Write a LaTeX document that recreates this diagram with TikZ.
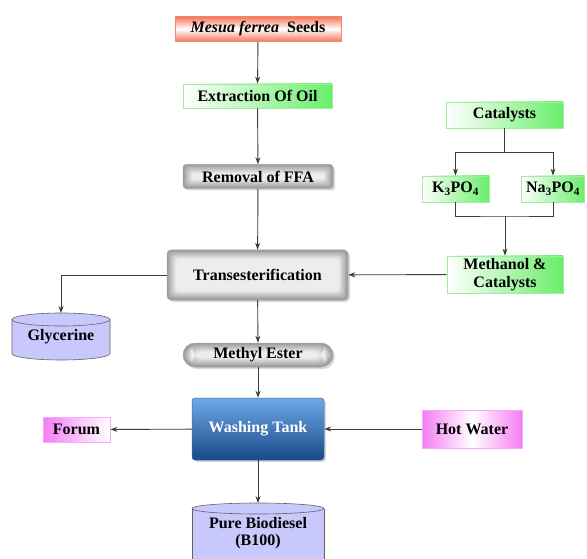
\documentclass[tikz,border=0pt]{standalone}
\usepackage{fontspec}
\setmainfont{Liberation Serif}[BoldFont={* Bold}, ItalicFont={* Italic}, BoldItalicFont={* Bold Italic}]
\usetikzlibrary{arrows.meta,shadows,calc}
\definecolor{grn}{RGB}{105,238,105}
\definecolor{grnb}{RGB}{160,236,160}
\definecolor{org}{RGB}{246,118,88}
\definecolor{orgb}{RGB}{240,135,105}
\definecolor{mag}{RGB}{244,125,244}
\definecolor{magb}{RGB}{245,170,245}
\definecolor{lav}{RGB}{200,200,252}
\definecolor{wtop}{RGB}{110,170,232}
\definecolor{wbot}{RGB}{24,72,136}
\definecolor{ln}{RGB}{60,60,60}
\begin{document}
\begin{tikzpicture}[x=1pt,y=-1pt,
  lbl/.style={font=\bfseries\fontsize{16}{17.5}\selectfont, inner sep=0pt, align=center},
  greenbox/.style={lbl, draw=grnb, line width=0.8pt, left color=white, right color=grn},
  magbox/.style={lbl, draw=magb, line width=0.8pt},
  glow/.style={lbl, draw=gray!70, line width=0.5pt, rounded corners=#1,
    drop shadow={shadow xshift=2pt, shadow yshift=-2pt, opacity=0.3},
    path picture={
      \foreach \i in {0,...,11}{
        \pgfmathsetmacro\c{80-\i*6}
        \fill[gray!\c, rounded corners=#1] ([shift={(\i*0.8pt,\i*0.8pt)}]path picture bounding box.south west) rectangle ([shift={(-\i*0.8pt,-\i*0.8pt)}]path picture bounding box.north east);
      }}},
  arr/.style={draw=ln, line width=0.9pt, -{Stealth[length=7pt,width=5pt]}},
  con/.style={draw=ln, line width=0.9pt}
]
\useasboundingbox (0,0) rectangle (587,559);
\clip (0,0) rectangle (587,559);

% cylinders
\fill[lav] (12,319.5) -- (12,353.5) arc[start angle=180,end angle=360,x radius=49pt,y radius=6.5pt] -- (110,319.5) arc[start angle=0,end angle=180,x radius=49pt,y radius=6.5pt] -- cycle;
\draw[ln!80, line width=0.6pt] (12,319.5) -- (12,353.5) arc[start angle=180,end angle=360,x radius=49pt,y radius=6.5pt] -- (110,319.5);
\draw[ln!80, line width=0.6pt] (61,319.5) ellipse[x radius=49pt,y radius=6.5pt];
\coordinate (glytop) at (61,313);
\node[lbl] (gly) at (61,337) {Glycerine};

\fill[lav] (192,508.5) -- (192,580) -- (324,580) -- (324,508.5) arc[start angle=0,end angle=180,x radius=66pt,y radius=5.5pt] -- cycle;
\draw[ln!80, line width=0.6pt] (192,508.5) -- (192,580) (324,580) -- (324,508.5);
\draw[ln!80, line width=0.6pt] (258,508.5) ellipse[x radius=66pt,y radius=5.5pt];
\coordinate (biotop) at (258,503);
\node[lbl] (bio) at (258,533) {Pure Biodiesel\\(B100)};

% main nodes
\node[lbl, draw=orgb, line width=0.8pt, top color=org, bottom color=org, middle color=white,
  minimum width=166pt, minimum height=25pt] (seeds) at (258,29) {\textit{Mesua ferrea}~~Seeds};
\node[greenbox, minimum width=149pt, minimum height=24pt] (extract) at (257.5,96) {Extraction Of Oil};
\node[glow=3pt, minimum width=150pt, minimum height=24pt] (removal) at (258,176.5) {Removal of FFA};
\node[glow=4pt, minimum width=181pt, minimum height=50pt] (trans) at (257.5,275) {Transesterification};
\node[glow=12pt, minimum width=150pt, minimum height=24pt] (methyl) at (258,355) {Methyl Ester};
\node[lbl, text=white, draw=wbot!80, line width=0.5pt, rounded corners=3pt, top color=wtop, bottom color=wbot,
  drop shadow={shadow xshift=2pt, shadow yshift=-2pt, opacity=0.3},
  minimum width=132pt, minimum height=62pt] (wash) at (258,429) {Washing Tank};
\node[magbox, left color=mag, right color=white, minimum width=67pt, minimum height=25pt] (forum) at (76.5,429.5) {Forum};
\node[magbox, left color=mag, right color=mag, middle color=white, minimum width=100pt, minimum height=38pt] (hot) at (472,429) {Hot Water};

\node[greenbox, minimum width=117pt, minimum height=26pt] (cat) at (504.5,115) {Catalysts};
\node[greenbox, minimum width=67pt, minimum height=26pt] (k) at (455.5,189) {K\textsubscript{3}PO\textsubscript{4}};
\node[greenbox, minimum width=63pt, minimum height=26pt] (na) at (553,189) {Na\textsubscript{3}PO\textsubscript{4}};
\node[greenbox, minimum width=116pt, minimum height=37pt] (meth) at (505,274.5) {Methanol \&\\Catalysts};

\coordinate (cb) at (504.5,152);
\coordinate (jb) at (505,216);

% connectors
\draw[arr] (seeds) -- (extract);
\draw[arr] (extract) -- (removal);
\draw[arr] (removal) -- (trans);
\draw[arr] (trans) -- (methyl);
\draw[arr] (methyl) -- (wash);
\draw[arr] (wash) -- (forum);
\draw[arr] (hot) -- (wash);
\draw[arr] (wash) -- (biotop);
\draw[arr] (trans.west) -| (glytop);
\draw[arr] (meth) -- (trans);
\draw[con] (cat) -- (cb);
\draw[arr] (cb) -| (k);
\draw[arr] (cb) -| (na);
\draw[con] (k) |- (jb) -| (na);
\draw[arr] (jb) -- (meth);
\end{tikzpicture}
\end{document}
